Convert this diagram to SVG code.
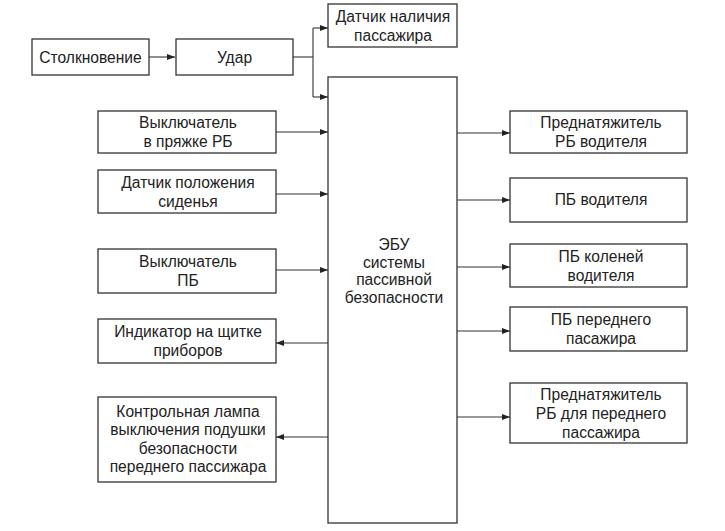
<svg xmlns="http://www.w3.org/2000/svg" width="725" height="531" viewBox="0 0 725 531">
<style>
.b{fill:#fff;stroke:#333;stroke-width:1.3}
.t{font-family:"Liberation Sans",Arial,sans-serif;font-size:15.6px;fill:#222;text-anchor:middle}
.c{fill:none;stroke:#333;stroke-width:1.1}
</style>
<defs>
<marker id="a" markerWidth="8" markerHeight="6" refX="8" refY="3" orient="auto" markerUnits="userSpaceOnUse">
<path d="M0,0 L8,3 L0,6 z" fill="#222"/>
</marker>
</defs>
<rect width="725" height="531" fill="#fff"/>
<g id="connectors">
<path class="c" d="M149,57 H175" marker-end="url(#a)"/>
<path class="c" d="M293,57 H313"/>
<path class="c" d="M313,28 V97"/>
<path class="c" d="M313,28 H328" marker-end="url(#a)"/>
<path class="c" d="M313,97 H328" marker-end="url(#a)"/>
<path class="c" d="M276,132 H328" marker-end="url(#a)" stroke="#888"/>
<path class="c" d="M276,194 H328" marker-end="url(#a)"/>
<path class="c" d="M276,270 H328" marker-end="url(#a)"/>
<path class="c" d="M328,343 H276" marker-end="url(#a)"/>
<path class="c" d="M328,437 H276" marker-end="url(#a)"/>
<path class="c" d="M457,133 H510" marker-end="url(#a)" stroke="#888"/>
<path class="c" d="M457,200 H510" marker-end="url(#a)"/>
<path class="c" d="M457,267 H510" marker-end="url(#a)"/>
<path class="c" d="M457,331 H510" marker-end="url(#a)"/>
<path class="c" d="M457,417 H510" marker-end="url(#a)"/>
</g>
<g id="n1"><rect class="b" x="32" y="39" width="117" height="36"/><text class="t" x="90.5" y="62.5">Столкновение</text></g>
<g id="n2"><rect class="b" x="176" y="39" width="117" height="36"/><text class="t" x="234.5" y="62.5">Удар</text></g>
<g id="n3"><rect class="b" x="328" y="4" width="129" height="43"/><text class="t" x="393" y="22">Датчик наличия</text><text class="t" x="393" y="41">пассажира</text></g>
<g id="ecu"><rect class="b" x="328" y="77" width="129" height="446"/>
<text class="t" x="394" y="250">ЭБУ</text><text class="t" x="394" y="268">системы</text><text class="t" x="394" y="285">пассивной</text><text class="t" x="394" y="303">безопасности</text></g>
<g id="l1"><rect class="b" x="98" y="111" width="178" height="42"/><text class="t" x="188" y="128">Выключатель</text><text class="t" x="188" y="147">в пряжке РБ</text></g>
<g id="l2"><rect class="b" x="98" y="170" width="178" height="43"/><text class="t" x="188" y="188">Датчик положения</text><text class="t" x="188" y="207">сиденья</text></g>
<g id="l3"><rect class="b" x="98" y="249" width="178" height="44"/><text class="t" x="188" y="267">Выключатель</text><text class="t" x="188" y="286">ПБ</text></g>
<g id="l4"><rect class="b" x="98" y="319" width="178" height="44"/><text class="t" x="188" y="337">Индикатор на щитке</text><text class="t" x="188" y="356">приборов</text></g>
<g id="l5"><rect class="b" x="98" y="397" width="178" height="85"/><text class="t" x="188" y="417">Контрольная лампа</text><text class="t" x="188" y="435">выключения подушки</text><text class="t" x="188" y="454">безопасности</text><text class="t" x="188" y="472">переднего пассижара</text></g>
<g id="r1"><rect class="b" x="510" y="111" width="177" height="42"/><text class="t" x="601" y="128">Преднатяжитель</text><text class="t" x="601" y="147">РБ водителя</text></g>
<g id="r2"><rect class="b" x="510" y="178" width="177" height="44"/><text class="t" x="601" y="205">ПБ водителя</text></g>
<g id="r3"><rect class="b" x="510" y="244" width="177" height="43"/><text class="t" x="601" y="262">ПБ коленей</text><text class="t" x="601" y="281">водителя</text></g>
<g id="r4"><rect class="b" x="510" y="307" width="177" height="44"/><text class="t" x="601" y="325">ПБ переднего</text><text class="t" x="601" y="344">пасажира</text></g>
<g id="r5"><rect class="b" x="510" y="383" width="177" height="60"/><text class="t" x="601" y="400">Преднатяжитель</text><text class="t" x="601" y="419">РБ для переднего</text><text class="t" x="601" y="438">пассажира</text></g>
</svg>
